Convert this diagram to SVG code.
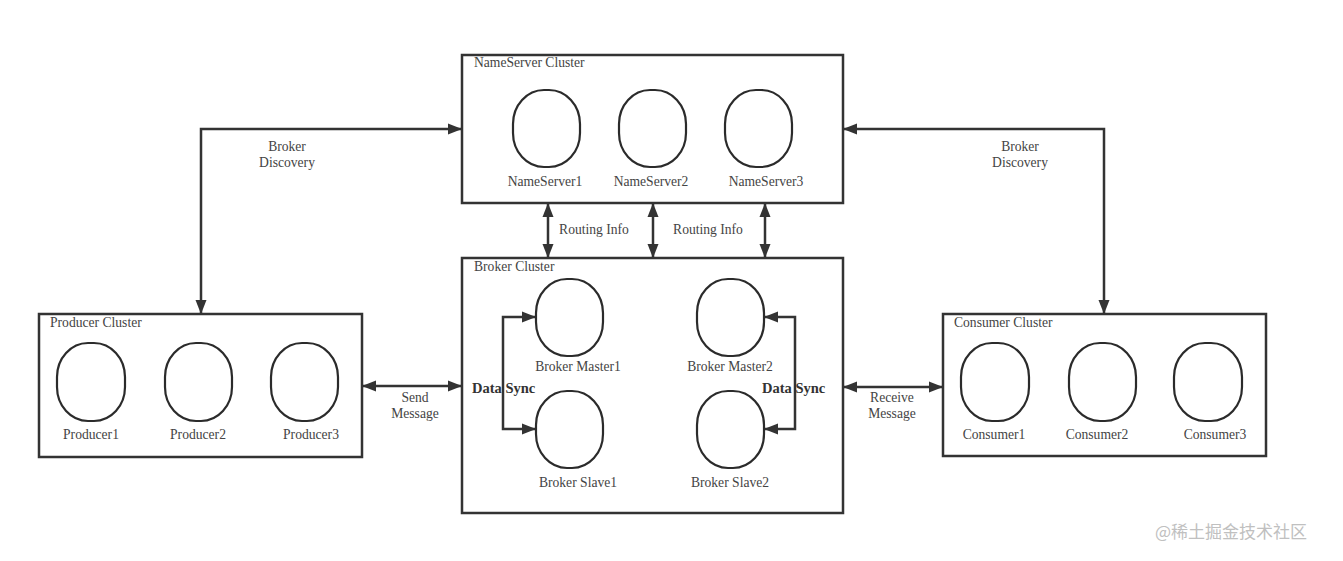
<svg xmlns="http://www.w3.org/2000/svg" width="1343" height="561" viewBox="0 0 1343 561">
<style>
.box{fill:#fff;stroke:#333;stroke-width:2.5}
.node{fill:#fff;stroke:#2b2b2b;stroke-width:2.2}
.t{font-family:"Liberation Serif","Times New Roman",serif;font-size:13.6px;fill:#444}
.c{text-anchor:middle}
.b{font-weight:bold;fill:#333;font-size:14.5px}
.ln{fill:none;stroke:#333;stroke-width:2.5}
.wm{font-family:"Noto Sans CJK SC","Noto Sans",sans-serif;font-size:17px;fill:#c0c0c0}
</style>
<defs>
<marker id="ah" markerUnits="userSpaceOnUse" markerWidth="15" markerHeight="12" refX="14" refY="6" orient="auto-start-reverse" viewBox="0 0 15 12">
<path d="M0,0.5 L14,6 L0,11.5 z" fill="#333"/>
</marker>
</defs>
<rect width="1343" height="561" fill="#fff"/>

<g id="connectors">
<path class="ln" d="M201,314 V129 H462" marker-start="url(#ah)" marker-end="url(#ah)"/>
<path class="ln" d="M1104,314 V129 H843" marker-start="url(#ah)" marker-end="url(#ah)"/>
<path class="ln" d="M548,203 V258" marker-start="url(#ah)" marker-end="url(#ah)"/>
<path class="ln" d="M653,203 V258" marker-start="url(#ah)" marker-end="url(#ah)"/>
<path class="ln" d="M765,203 V258" marker-start="url(#ah)" marker-end="url(#ah)"/>
<path class="ln" d="M362,386 H462" marker-start="url(#ah)" marker-end="url(#ah)"/>
<path class="ln" d="M843,387 H943" marker-start="url(#ah)" marker-end="url(#ah)"/>
<text class="t c" x="287" y="151">Broker</text>
<text class="t c" x="287" y="167">Discovery</text>
<text class="t c" x="1020" y="151">Broker</text>
<text class="t c" x="1020" y="167">Discovery</text>
<text class="t c" x="594" y="234">Routing Info</text>
<text class="t c" x="708" y="234">Routing Info</text>
<text class="t c" x="415" y="402">Send</text>
<text class="t c" x="415" y="418">Message</text>
<text class="t c" x="892" y="402">Receive</text>
<text class="t c" x="892" y="418">Message</text>
</g>

<g id="nameserver-cluster">
<rect class="box" x="462" y="55" width="381" height="148"/>
<text class="t" x="474" y="67">NameServer Cluster</text>
</g>
<g id="nameserver1">
<rect class="node" x="513" y="90" width="67" height="77" rx="31" ry="34"/>
<text class="t c" x="545" y="186">NameServer1</text>
</g>
<g id="nameserver2">
<rect class="node" x="619" y="90" width="67" height="77" rx="31" ry="34"/>
<text class="t c" x="651" y="186">NameServer2</text>
</g>
<g id="nameserver3">
<rect class="node" x="725" y="90" width="67" height="77" rx="31" ry="34"/>
<text class="t c" x="766" y="186">NameServer3</text>
</g>

<g id="broker-cluster">
<rect class="box" x="462" y="258" width="381" height="255"/>
<text class="t" x="474" y="271">Broker Cluster</text>
<path class="ln" d="M536,317 H503 V429 H536" marker-start="url(#ah)" marker-end="url(#ah)"/>
<path class="ln" d="M764,317 H795 V429 H764" marker-start="url(#ah)" marker-end="url(#ah)"/>
<text class="t b" x="472" y="393">Data Sync</text>
<text class="t b" x="762" y="393">Data Sync</text>
</g>
<g id="broker-master1">
<rect class="node" x="536" y="279" width="67" height="77" rx="31" ry="34"/>
<text class="t c" x="578" y="371">Broker Master1</text>
</g>
<g id="broker-slave1">
<rect class="node" x="536" y="391" width="67" height="77" rx="31" ry="34"/>
<text class="t c" x="578" y="487">Broker Slave1</text>
</g>
<g id="broker-master2">
<rect class="node" x="697" y="279" width="67" height="77" rx="31" ry="34"/>
<text class="t c" x="730" y="371">Broker Master2</text>
</g>
<g id="broker-slave2">
<rect class="node" x="697" y="391" width="67" height="77" rx="31" ry="34"/>
<text class="t c" x="730" y="487">Broker Slave2</text>
</g>

<g id="producer-cluster">
<rect class="box" x="39" y="314" width="323" height="143"/>
<text class="t" x="50" y="327">Producer Cluster</text>
</g>
<g id="producer1">
<rect class="node" x="57" y="343" width="68" height="78" rx="31" ry="34"/>
<text class="t c" x="91" y="439">Producer1</text>
</g>
<g id="producer2">
<rect class="node" x="165" y="343" width="67" height="78" rx="31" ry="34"/>
<text class="t c" x="198" y="439">Producer2</text>
</g>
<g id="producer3">
<rect class="node" x="271" y="343" width="67" height="78" rx="31" ry="34"/>
<text class="t c" x="311" y="439">Producer3</text>
</g>

<g id="consumer-cluster">
<rect class="box" x="943" y="314" width="323" height="142"/>
<text class="t" x="954" y="327">Consumer Cluster</text>
</g>
<g id="consumer1">
<rect class="node" x="961" y="343" width="68" height="78" rx="31" ry="34"/>
<text class="t c" x="994" y="439">Consumer1</text>
</g>
<g id="consumer2">
<rect class="node" x="1069" y="343" width="67" height="78" rx="31" ry="34"/>
<text class="t c" x="1097" y="439">Consumer2</text>
</g>
<g id="consumer3">
<rect class="node" x="1174" y="343" width="68" height="78" rx="31" ry="34"/>
<text class="t c" x="1215" y="439">Consumer3</text>
</g>

<text class="wm" x="1155" y="538">@稀土掘金技术社区</text>
</svg>
